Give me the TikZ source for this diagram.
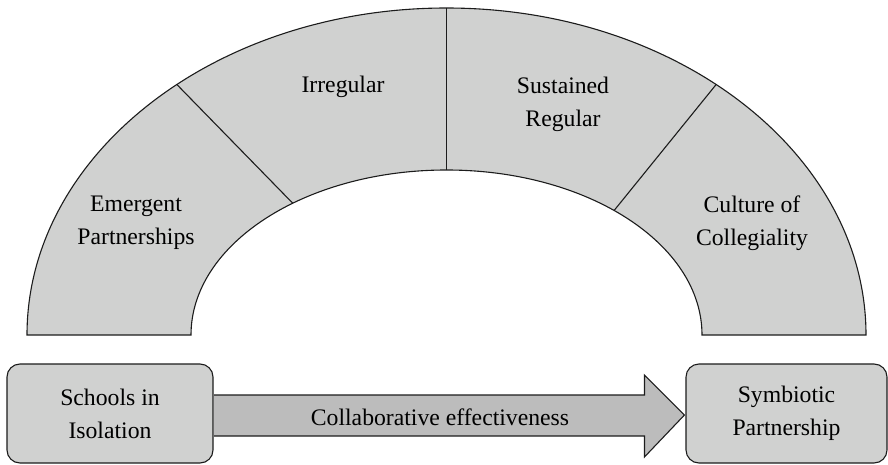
\documentclass[tikz,border=0pt]{standalone}
\usepackage{fontspec}
\setmainfont{Liberation Serif}
\usetikzlibrary{calc}
\definecolor{archgray}{HTML}{D0D1D0}
\definecolor{arrowgray}{HTML}{BCBCBC}
\definecolor{edgegray}{HTML}{1C1C1C}
\tikzset{
  archpart/.style={draw=edgegray, fill=archgray, line width=1.1pt},
  stagelabel/.style={align=center, inner sep=0pt, font=\fontsize{23.7}{33}\selectfont},
  endbox/.style={draw=edgegray, fill=archgray, line width=1.1pt, rounded corners=13pt,
    minimum height=99pt, align=center, inner sep=0pt, font=\fontsize{23.7}{33}\selectfont},
  bigarrow/.style={draw=edgegray, fill=arrowgray, line width=1.1pt, line join=miter}
}
\begin{document}
\begin{tikzpicture}[x=1pt,y=1pt]
\useasboundingbox (0,0) rectangle (888,464);
\coordinate (c) at (446.5,129);
% the arch
\draw[archpart] ($(c)+(-419.5,0)$) arc[start angle=180, end angle=0, x radius=419.5, y radius=327]
  -- ($(c)+(255.5,0)$) arc[start angle=0, end angle=180, x radius=255.5, y radius=165] -- cycle;
\draw[draw=edgegray, line width=1.1pt] ($(c)+(130:419.5 and 327)$) -- ($(c)+(127:255.5 and 165)$);
\draw[draw=edgegray, line width=1.1pt] ($(c)+(0,327)$) -- ($(c)+(0,165)$);
\draw[draw=edgegray, line width=1.1pt] ($(c)+(50:419.5 and 327)$) -- ($(c)+(49:255.5 and 165)$);
\node[stagelabel] (emergent) at (136,241.5) {Emergent\\Partnerships};
\node[stagelabel, anchor=base] (irregular) at (343,371) {Irregular};
\node[stagelabel] (sustained) at (563,359.5) {Sustained\\Regular};
\node[stagelabel] (culture) at (752,241) {Culture of\\Collegiality};
% start and end
\node[endbox, minimum width=206pt] (iso) at (110,50.5) {Schools in\\Isolation};
\node[endbox, minimum width=201pt] (sym) at (786.5,50.5) {Symbiotic\\Partnership};
\coordinate (tip) at ($(sym.west)+(-1,-1.5)$);
\draw[bigarrow] ($(iso.east)+(0.6,18.5)$) -- ($(tip)+(-40,20)$) -- ($(tip)+(-40,40)$) -- (tip)
  -- ($(tip)+(-40,-42)$) -- ($(tip)+(-40,-21)$) -- ($(iso.east)+(0.6,-22.5)$);
\node[stagelabel, anchor=base] (effect) at (440,39) {Collaborative effectiveness};
\end{tikzpicture}
\end{document}
